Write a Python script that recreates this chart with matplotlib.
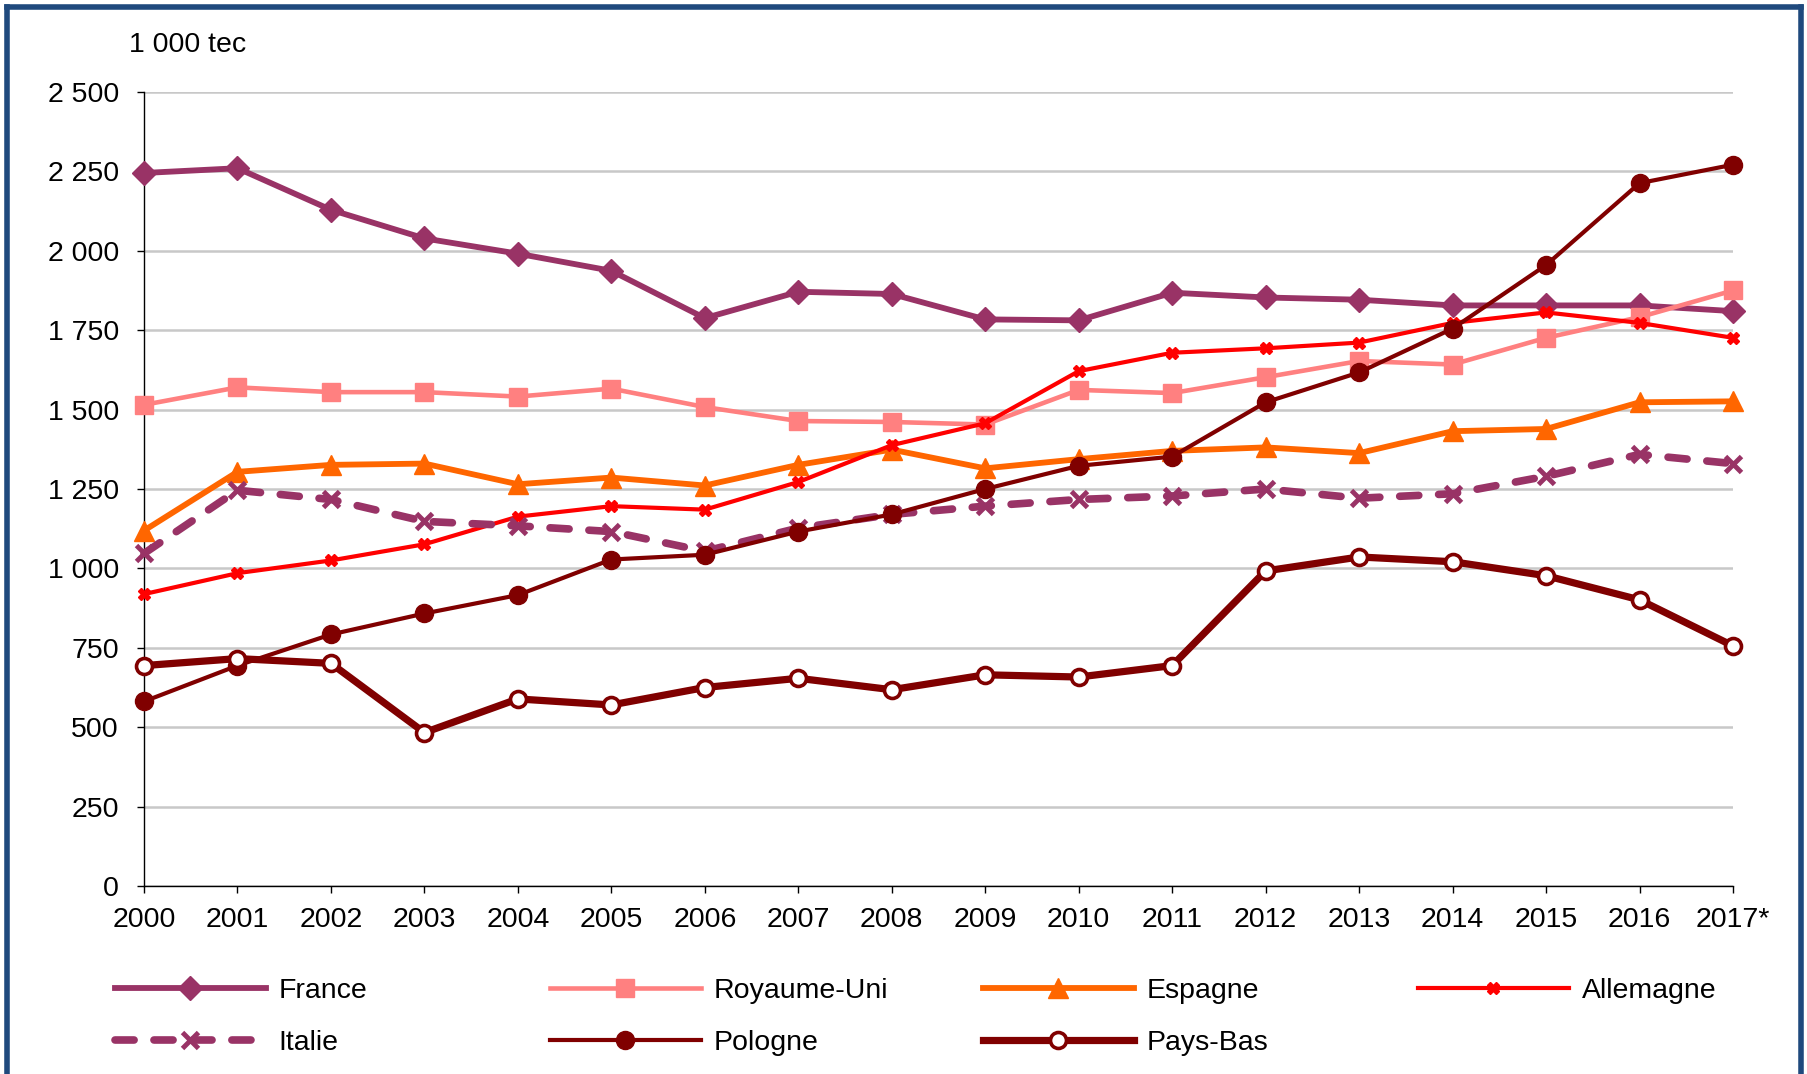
import matplotlib
matplotlib.use("Agg")
import matplotlib.pyplot as plt
from matplotlib.lines import Line2D

plt.rcParams['font.family'] = ['Liberation Sans', 'DejaVu Sans']

years = list(range(2000, 2018))
xlabels = [str(y) for y in range(2000, 2017)] + ["2017*"]

france = [2245, 2260, 2129, 2039, 1991, 1937, 1788, 1871, 1864, 1784, 1781, 1868, 1853, 1846, 1828, 1828, 1828, 1810]
royaume_uni = [1515, 1570, 1555, 1555, 1541, 1566, 1508, 1464, 1461, 1453, 1562, 1552, 1602, 1653, 1642, 1726, 1791, 1875]
espagne = [1119, 1304, 1326, 1330, 1265, 1286, 1261, 1326, 1374, 1315, 1344, 1370, 1381, 1363, 1432, 1439, 1523, 1526]
allemagne = [919, 985, 1025, 1076, 1163, 1196, 1185, 1272, 1388, 1457, 1621, 1679, 1693, 1711, 1773, 1806, 1773, 1726]
italie = [1047, 1246, 1217, 1148, 1134, 1116, 1054, 1127, 1170, 1196, 1217, 1228, 1250, 1221, 1235, 1290, 1359, 1330]
pologne = [581, 694, 792, 858, 916, 1028, 1043, 1116, 1170, 1250, 1323, 1352, 1523, 1617, 1755, 1955, 2213, 2271]
pays_bas = [694, 716, 701, 483, 589, 570, 625, 654, 618, 665, 658, 694, 992, 1036, 1021, 977, 901, 756]

yticks = [0, 250, 500, 750, 1000, 1250, 1500, 1750, 2000, 2250, 2500]

W, H = 1808, 1074
fig = plt.figure(figsize=(W / 100, H / 100), dpi=100)
fig.patch.set_facecolor('white')

ax = fig.add_axes([144 / W, 1 - 886 / H, (1733 - 144) / W, (886 - 92) / H])

PLUM = '#993366'
styles = [
    ("France", france, dict(color=PLUM, lw=4.2, marker='D', ms=12.5, mec=PLUM, mfc=PLUM)),
    ("Royaume-Uni", royaume_uni, dict(color='#FF8080', lw=3.3, marker='s', ms=13, mec='#FF8080', mfc='#FF8080')),
    ("Espagne", espagne, dict(color='#FF6600', lw=4.2, marker='^', ms=14, mec='#FF6600', mfc='#FF6600')),
    ("Allemagne", allemagne, dict(color='#FF0000', lw=3.0, marker='X', ms=9, mec='#FF0000', mfc='#FF0000')),
    ("Italie", italie, dict(color=PLUM, lw=5.5, marker='x', ms=12, mew=3.5, mec=PLUM, ls=(0, (2.5, 2.6)),
                            dash_capstyle='round')),
    ("Pologne", pologne, dict(color='#800000', lw=3.0, marker='o', ms=13, mec='#800000', mfc='#800000')),
    ("Pays-Bas", pays_bas, dict(color='#800000', lw=5.2, marker='o', ms=11.5, mew=2.6, mec='#800000', mfc='white')),
]

handles = {}
for z, (name, vals, st) in enumerate(styles):
    ln, = ax.plot(years, vals, clip_on=False, zorder=3 + z, **st)
    handles[name] = ln

ax.set_xlim(2000, 2017)
ax.set_ylim(0, 2500)
ax.set_xticks(years)
ax.set_xticklabels(xlabels)
ax.set_yticks(yticks)
ax.set_yticklabels([f"{v:,}".replace(",", " ") for v in yticks])
ax.tick_params(axis='both', labelsize=20.5, colors='black', width=1, length=5, direction='out')
ax.tick_params(axis='y', pad=13)
ax.tick_params(axis='x', pad=10)
ax.yaxis.grid(True, color='#C8C8C8', lw=1.8)
ax.set_axisbelow(True)
for s in ['top', 'right']:
    ax.spines[s].set_visible(False)
for s in ['left', 'bottom']:
    ax.spines[s].set_color('black')
    ax.spines[s].set_linewidth(1.0)

fig.text(129 / W, 1 - 44.5 / H, "1 000 tec", fontsize=20.5, va='center', ha='left')

# Legend, each entry placed individually
col_x = [115, 550, 983, 1418]
row_y = [990.5, 1042.5]
positions = {
    "France": (0, 0), "Royaume-Uni": (1, 0), "Espagne": (2, 0), "Allemagne": (3, 0),
    "Italie": (0, 1), "Pologne": (1, 1), "Pays-Bas": (2, 1),
}
for name, (c, r) in positions.items():
    fig.legend([handles[name]], [name], loc='center left',
               bbox_to_anchor=(col_x[c] / W, 1 - row_y[r] / H),
               frameon=False, fontsize=20.5, handlelength=5.3, handletextpad=0.45,
               borderpad=0, borderaxespad=0, numpoints=1)

# Blue frame around figure
border = '#1F497D'
fig.add_artist(Line2D([7 / W, 7 / W], [0, 1 - 7 / H], color=border, lw=4, transform=fig.transFigure))
fig.add_artist(Line2D([7 / W, 1801 / W], [1 - 7 / H, 1 - 7 / H], color=border, lw=4, transform=fig.transFigure))
fig.add_artist(Line2D([1801 / W, 1801 / W], [0, 1 - 7 / H], color=border, lw=4, transform=fig.transFigure))

fig.savefig("out.png", dpi=100, facecolor='white')
